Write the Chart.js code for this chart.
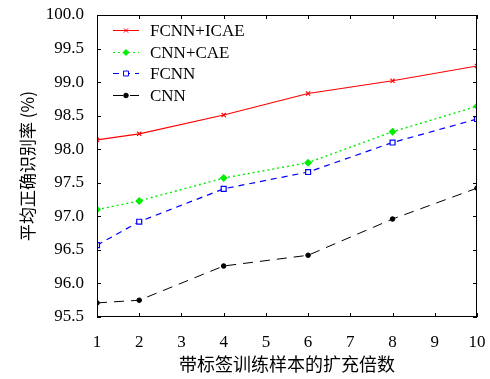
<!DOCTYPE html>
<html>
<head>
<meta charset="utf-8">
<script src="https://cdn.jsdelivr.net/npm/chart.js@4/dist/chart.umd.min.js"></script>
<style>
  html, body { margin: 0; padding: 0; background: #fff; }
  #wrap { width: 490px; height: 379px; }
</style>
</head>
<body>
<div id="wrap"><canvas id="chart" width="490" height="379"></canvas></div>
<script>
// expansion factor of labelled training samples
var factors = [1, 2, 4, 6, 8, 10];
var fcnnIcae = [98.14, 98.23, 98.51, 98.83, 99.02, 99.24];
var cnnCae   = [97.10, 97.23, 97.57, 97.80, 98.26, 98.64];
var fcnn     = [96.57, 96.92, 97.41, 97.66, 98.10, 98.45];
var cnn      = [95.71, 95.75, 96.26, 96.42, 96.96, 97.42];
var seriesNames = ["FCNN+ICAE", "CNN+CAE", "FCNN", "CNN"];

var serif = "'Liberation Serif', 'DejaVu Serif', serif";
var cjk = "'Noto Sans CJK SC', sans-serif";

function pts(vals) {
    return factors.map(function(f, i) { return { x: f, y: vals[i] }; });
}

// box frame with inward ticks, and legend inside the plot
var framePlugin = {
    id: 'frame',
    afterDraw: function(chart) {
        var ctx = chart.ctx, a = chart.chartArea;
        var xs = chart.scales.x, ys = chart.scales.y;
        ctx.save();
        ctx.strokeStyle = '#000';
        ctx.lineWidth = 1;
        ctx.setLineDash([]);
        ctx.strokeRect(a.left + 0.5, a.top + 0.5, a.right - a.left - 1, a.bottom - a.top - 1);
        ctx.beginPath();
        xs.ticks.forEach(function(t) {
            var px = Math.round(xs.getPixelForValue(t.value)) + 0.5;
            ctx.moveTo(px, a.bottom); ctx.lineTo(px, a.bottom - 4);
            ctx.moveTo(px, a.top); ctx.lineTo(px, a.top + 4);
        });
        ys.ticks.forEach(function(t) {
            var py = Math.round(ys.getPixelForValue(t.value)) + 0.5;
            ctx.moveTo(a.left, py); ctx.lineTo(a.left + 4, py);
            ctx.moveTo(a.right, py); ctx.lineTo(a.right - 4, py);
        });
        ctx.stroke();

        // legend
        var lx = a.left + 16, ly = a.top + 15, row = 21.7;
        ctx.font = "17px " + serif;
        ctx.textBaseline = 'middle';
        chart.data.datasets.forEach(function(ds, i) {
            var y = Math.round(ly + i * row) + 0.5;
            ctx.strokeStyle = ds.borderColor;
            ctx.lineWidth = 1;
            ctx.setLineDash(ds.borderDash || []);
            ctx.beginPath();
            ctx.moveTo(lx, y); ctx.lineTo(lx + 26, y);
            ctx.stroke();
            ctx.setLineDash([]);
            ctx.fillStyle = ds.pointBackgroundColor;
            ctx.strokeStyle = ds.borderColor;
            Chart.helpers.drawPoint(ctx, {
                pointStyle: ds.pointStyle, radius: ds.pointRadius, borderWidth: 1
            }, lx + 13, y);
            ctx.fillStyle = '#000';
            ctx.fillText(ds.label, lx + 37, y + 1);
        });
        ctx.restore();
    }
};

new Chart(document.getElementById("chart"),
{
    type: 'line',
    data:
    {
        datasets:
        [{
            label: seriesNames[0],
            data: pts(fcnnIcae),
            borderColor: "#ff0000",
            backgroundColor: "#ff0000",
            pointBackgroundColor: "#ff0000",
            pointStyle: 'crossRot',
            pointRadius: 3,
            borderWidth: 1.2
        },
        {
            label: seriesNames[1],
            data: pts(cnnCae),
            borderColor: "#00ee00",
            backgroundColor: "#00ee00",
            pointBackgroundColor: "#00ee00",
            borderDash: [2, 3],
            pointStyle: 'rectRot',
            pointRadius: 3,
            borderWidth: 1.4
        },
        {
            label: seriesNames[2],
            data: pts(fcnn),
            borderColor: "#0000ff",
            backgroundColor: "#0000ff",
            pointBackgroundColor: "#ffffff",
            borderDash: [6, 5],
            pointStyle: 'rect',
            pointRadius: 3.5,
            borderWidth: 1.2
        },
        {
            label: seriesNames[3],
            data: pts(cnn),
            borderColor: "#000000",
            backgroundColor: "#000000",
            pointBackgroundColor: "#000000",
            borderDash: [10, 7],
            pointStyle: 'circle',
            pointRadius: 2.3,
            borderWidth: 1
        }]
    },
    options:
    {
        responsive: false,
        animation: false,
        layout: { padding: { top: 15, right: 13, left: 0, bottom: 0 } },
        plugins: {
            legend: { display: false },
            tooltip: { enabled: false }
        },
        elements: { line: { tension: 0, fill: false }, point: { borderWidth: 1 } },
        scales:
        {
            x: {
                type: 'linear',
                min: 1, max: 10,
                grid: { display: false, drawTicks: false },
                border: { display: false },
                ticks: { stepSize: 1, padding: 15, color: '#000', font: { family: serif, size: 17 } },
                title: { display: true, text: '带标签训练样本的扩充倍数', color: '#000',
                         font: { family: cjk, size: 18 }, padding: { top: 2, bottom: 4 } },
                afterFit: function(s) { s.height = 62; s.paddingLeft = 0; s.paddingRight = 0; }
            },
            y: {
                min: 95.5, max: 100,
                grid: { display: false, drawTicks: false },
                border: { display: false },
                ticks: { stepSize: 0.5, padding: 13, color: '#000', font: { family: serif, size: 17 },
                         callback: function(v) { return v.toFixed(1); } },
                title: { display: true, text: '平均正确识别率 (%)', color: '#000',
                         font: { family: cjk, size: 17 }, padding: { top: 17, bottom: 0 } },
                afterFit: function(s) { s.width = 97; s.paddingTop = 0; s.paddingBottom = 0; }
            }
        }
    },
    plugins: [framePlugin]
});
</script>
</body>
</html>
